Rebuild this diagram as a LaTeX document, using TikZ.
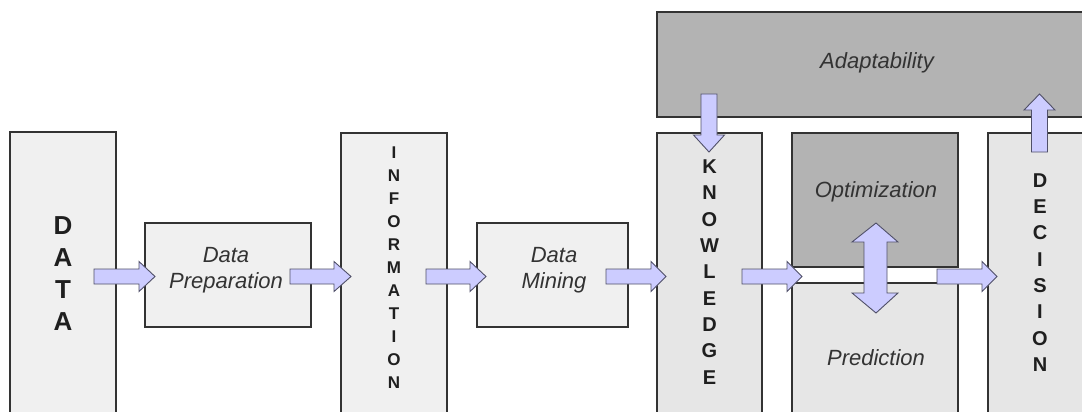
\documentclass[tikz,border=0pt]{standalone}
\usepackage{fontspec}
\setmainfont{Liberation Sans}[BoldFont={Liberation Sans Bold}]
\definecolor{lightbox}{HTML}{F0F0F0}
\definecolor{midbox}{HTML}{E6E6E6}
\definecolor{darkbox}{HTML}{B3B3B3}
\definecolor{edge}{HTML}{333333}
\definecolor{arrowfill}{HTML}{CCCCFF}
\definecolor{arrowedge}{HTML}{505068}
\definecolor{txt}{HTML}{333333}
\tikzset{
  boxA/.style={draw=edge, line width=1.3pt, fill=lightbox},
  boxB/.style={draw=edge, line width=1.3pt, fill=midbox},
  boxC/.style={draw=edge, line width=1.3pt, fill=darkbox},
  barrow/.style={draw=arrowedge, line width=0.9pt, fill=arrowfill, line join=miter},
  itlabel/.style={font=\itshape\fontsize{22}{26}\selectfont, text=txt, align=center, inner sep=0pt},
  bigletters/.style={font=\bfseries\fontsize{26}{32}\selectfont, text=black!88, align=center, inner sep=0pt},
  letters/.style={font=\bfseries\fontsize{17}{23}\selectfont, text=black!88, align=center, inner sep=0pt},
  lettersK/.style={font=\bfseries\fontsize{20}{26.3}\selectfont, text=black!88, align=center, inner sep=0pt},
}
\newcommand\HArrow[4]{%
  \draw[barrow] (#1,#4-7.5) -- (#2,#4-7.5) -- (#2,#4-15) -- (#3,#4) -- (#2,#4+15) -- (#2,#4+7.5) -- (#1,#4+7.5) -- cycle;}
\newcommand\VArrow[4]{%
  \draw[barrow] (#1-8,#2) -- (#1-8,#3) -- (#1-15.5,#3) -- (#1,#4) -- (#1+15.5,#3) -- (#1+8,#3) -- (#1+8,#2) -- cycle;}
\begin{document}
\begin{tikzpicture}[x=1pt,y=-1pt]
\useasboundingbox (0,0) rectangle (1082,412);
\clip (0,0) rectangle (1082,412);
% boxes
\draw[boxA] (10,132) rectangle (116,440);
\draw[boxA] (145,223) rectangle (311,327);
\draw[boxA] (341,133) rectangle (447,440);
\draw[boxA] (477,223) rectangle (628,327);
\draw[boxC] (657,12) rectangle (1100,117);
\draw[boxB] (657,133) rectangle (762,440);
\draw[boxC] (792,133) rectangle (958,267);
\draw[boxB] (792,283) rectangle (958,440);
\draw[boxB] (988,133) rectangle (1100,440);
% texts
\node[bigletters] (data) at (63,274) {D\\A\\T\\A};
\node[itlabel] (prep) at (226,270) {Data\\Preparation};
\node[letters] (info) at (394,268) {I\\N\\F\\O\\R\\M\\A\\T\\I\\O\\N};
\node[itlabel] (mining) at (554,270) {Data\\Mining};
\node[lettersK] (know) at (709.5,272) {K\\N\\O\\W\\L\\E\\D\\G\\E};
\node[itlabel] (adapt) at (877,63) {Adaptability};
\node[itlabel] (optim) at (876,192) {Optimization};
\node[itlabel] (pred) at (876,358) {Prediction};
\node[lettersK] (dec) at (1040,272.5) {D\\E\\C\\I\\S\\I\\O\\N};
% arrows
\HArrow{94}{139}{155}{276.5}
\HArrow{290}{334}{351}{276.5}
\HArrow{426}{470}{486}{276.5}
\HArrow{606}{651}{666}{276.5}
\HArrow{742}{787}{802}{276.5}
\HArrow{937}{982}{997}{276.5}
\VArrow{709}{94}{135}{152}
\VArrow{1039.5}{152}{110}{94}
\draw[barrow] (876,223) -- (898,242) -- (887,242) -- (887,293) -- (898,293) -- (876,313)
  -- (852,293) -- (864,293) -- (864,242) -- (852,242) -- cycle;
\end{tikzpicture}
\end{document}
